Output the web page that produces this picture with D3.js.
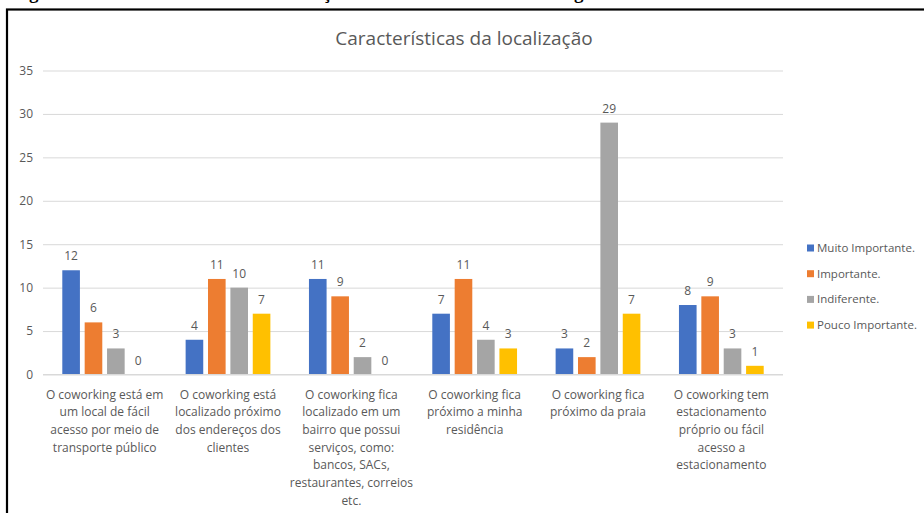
<!DOCTYPE html>
<html lang="pt">
<head>
<meta charset="utf-8">
<script src="https://cdn.jsdelivr.net/npm/d3@7/dist/d3.min.js"></script>
<style>
  html, body { margin: 0; padding: 0; background: #fff; }
  svg { display: block; }
  text { font-family: "Open Sans", "Noto Sans", sans-serif; fill: #595959; }
</style>
</head>
<body>
<svg id="chart" width="924" height="513"></svg>
<script>
// Category labels, one entry per line of the wrapped axis label
const categories = [
  ["O coworking está em", "um local de fácil", "acesso por meio de", "transporte público"],
  ["O coworking está", "localizado próximo", "dos endereços dos", "clientes"],
  ["O coworking fica", "localizado em um", "bairro que possui", "serviços, como:", "bancos, SACs,", "restaurantes, correios", "etc."],
  ["O coworking fica", "próximo a minha", "residência"],
  ["O coworking fica", "próximo da praia"],
  ["O coworking tem", "estacionamento", "próprio ou fácil", "acesso a", "estacionamento"]
];
const seriesNames = ["Muito Importante.", "Importante.", "Indiferente.", "Pouco Importante."];
const muitoImportante = [12, 4, 11, 7, 3, 8];
const importante      = [6, 11, 9, 11, 2, 9];
const indiferente     = [3, 10, 2, 4, 29, 3];
const poucoImportante = [0, 7, 0, 3, 7, 1];
const yTicks = [0, 5, 10, 15, 20, 25, 30, 35];
const colors = ["#4472C4", "#ED7D31", "#A5A5A5", "#FFC000"];
const title = "Características da localização";
const caption = "Figura 10 – Características da localização dos ambientes de coworking";

const seriesValues = [muitoImportante, importante, indiferente, poucoImportante];

const svg = d3.select("#chart");

// Caption above the framed chart (only its lower edge falls inside the page)
svg.append("text")
  .attr("x", 12).attr("y", -1)
  .style("font-family", "'Liberation Serif', 'DejaVu Serif', serif")
  .style("font-weight", "bold")
  .style("font-size", "19px")
  .style("fill", "#000")
  .text(caption);

// Frame around the chart
svg.append("rect")
  .attr("x", 7).attr("y", 9.5)
  .attr("width", 940).attr("height", 520)
  .attr("fill", "none")
  .attr("stroke", "#000")
  .attr("stroke-width", 2.2);

const plot = { left: 43, right: 783, top: 70.5, bottom: 374.5 };

const y = d3.scaleLinear().domain([0, 35]).range([plot.bottom, plot.top]);

const x0 = d3.scaleBand()
  .domain(d3.range(categories.length))
  .range([plot.left, plot.right])
  .paddingInner(0.3129)
  .paddingOuter(0.3129 / 2);

const x1 = d3.scaleBand()
  .domain(d3.range(seriesNames.length))
  .range([0, x0.bandwidth()])
  .paddingInner(0.2126)
  .paddingOuter(0);

// Title
svg.append("text")
  .attr("x", 464)
  .attr("y", 45)
  .attr("text-anchor", "middle")
  .style("font-size", "19px")
  .text(title);

// Gridlines and y tick labels via axis
const yAxis = d3.axisLeft(y)
  .tickValues(yTicks)
  .tickSize(-(plot.right - plot.left))
  .tickPadding(10)
  .tickFormat(d3.format("d"));

const gy = svg.append("g")
  .attr("transform", `translate(${plot.left},0)`)
  .call(yAxis);
gy.select(".domain").remove();
gy.selectAll(".tick line").attr("stroke", "#D9D9D9").attr("stroke-width", 1);
gy.selectAll(".tick text")
  .style("font-size", "12px")
  .style("font-family", "'Open Sans', sans-serif")
  .attr("fill", "#595959");

// Bars
const groups = svg.append("g").selectAll("g")
  .data(categories.map((c, i) => ({ i, values: seriesValues.map(s => s[i]) })))
  .join("g")
  .attr("transform", d => `translate(${x0(d.i)},0)`);

groups.selectAll("rect")
  .data(d => d.values.map((v, s) => ({ v, s })))
  .join("rect")
  .attr("x", d => x1(d.s))
  .attr("y", d => y(d.v))
  .attr("width", x1.bandwidth())
  .attr("height", d => y(0) - y(d.v))
  .attr("fill", d => colors[d.s]);

// Value labels
groups.selectAll("text.value")
  .data(d => d.values.map((v, s) => ({ v, s })))
  .join("text")
  .attr("class", "value")
  .attr("x", d => x1(d.s) + x1.bandwidth() / 2)
  .attr("y", d => y(d.v) - 10)
  .attr("text-anchor", "middle")
  .style("font-size", "12px")
  .text(d => d.v);

// Baseline
svg.append("line")
  .attr("x1", plot.left).attr("x2", plot.right)
  .attr("y1", y(0)).attr("y2", y(0))
  .attr("stroke", "#D9D9D9").attr("stroke-width", 1);

// Category labels (wrapped)
const xLabels = svg.append("g").selectAll("text")
  .data(categories.map((lines, i) => ({ lines, i })))
  .join("text")
  .attr("text-anchor", "middle")
  .style("font-size", "12px")
  .attr("transform", d => `translate(${x0(d.i) + x0.bandwidth() / 2},${plot.bottom + 24})`);

xLabels.selectAll("tspan")
  .data(d => d.lines)
  .join("tspan")
  .attr("x", 0)
  .attr("y", (l, k) => k * 17.7)
  .text(l => l);

// Legend
const legend = svg.append("g").selectAll("g")
  .data(seriesNames)
  .join("g")
  .attr("transform", (d, i) => `translate(807,${248 + i * 25.7})`);

legend.append("rect")
  .attr("x", 0).attr("y", -3.5)
  .attr("width", 7).attr("height", 7)
  .attr("fill", (d, i) => colors[i]);

legend.append("text")
  .attr("x", 10).attr("y", 4)
  .style("font-size", "11.5px")
  .text(d => d);
</script>
</body>
</html>
